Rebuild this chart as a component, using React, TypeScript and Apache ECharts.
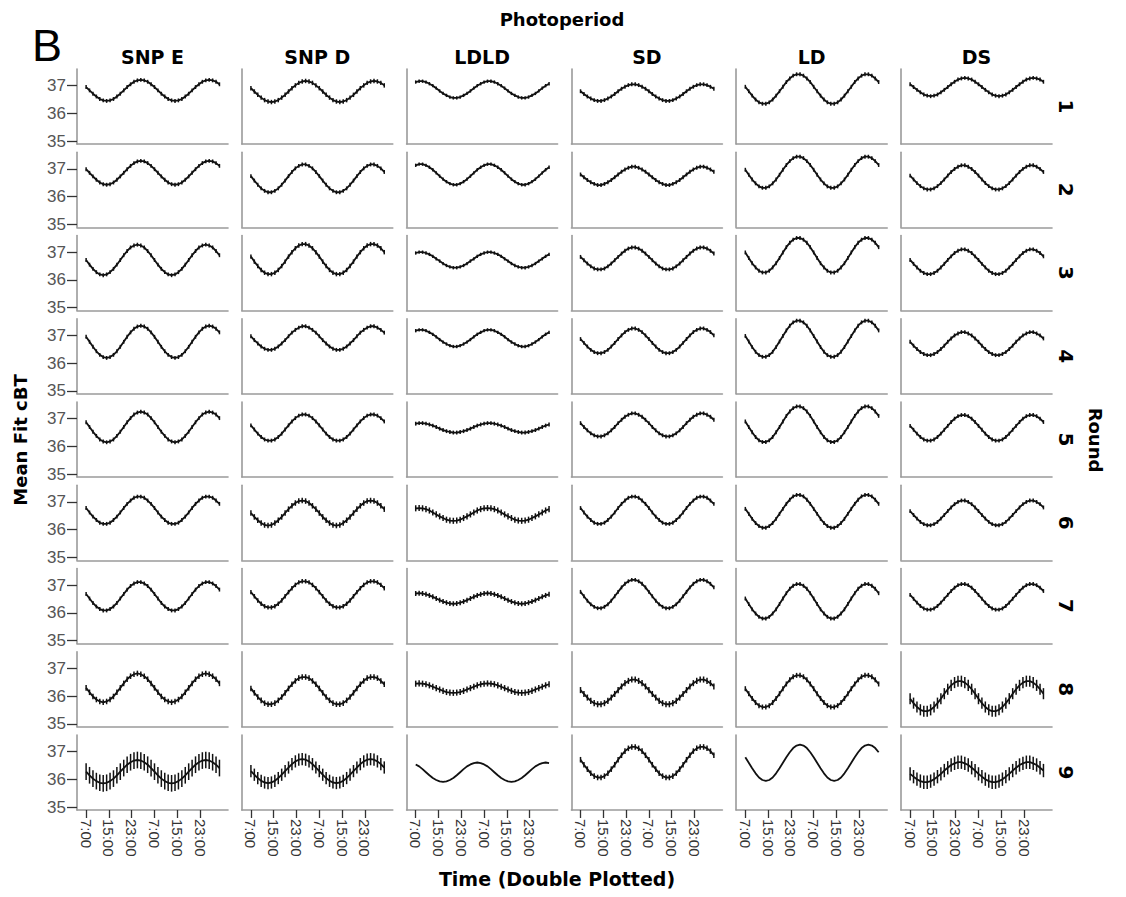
import React, { useEffect, useRef } from "react";
import * as echarts from "echarts";

// ---- labels ----
const PHOTOPERIODS = ["SNP E", "SNP D", "LDLD", "SD", "LD", "DS"];
const ROUNDS = ["1", "2", "3", "4", "5", "6", "7", "8", "9"];
const TICK_HOURS = [0, 8, 16, 24, 32, 40];
const TICK_LABELS = ["7:00", "15:00", "23:00", "7:00", "15:00", "23:00"];
const Y_TICKS = [35, 36, 37];
const SAMPLE_STEP_H = 1.2; // hours between fitted points (20 per day)

// ---- one day of fitted cBT per round (double plotted in the chart) ----
const SNP_E = [
  [36.95, 36.83, 36.71, 36.61, 36.52, 36.47, 36.45, 36.47, 36.52, 36.61, 36.71, 36.83, 36.95, 37.05, 37.14, 37.19, 37.21, 37.19, 37.14, 37.05],
  [36.99, 36.86, 36.73, 36.61, 36.51, 36.45, 36.43, 36.45, 36.51, 36.61, 36.73, 36.86, 36.99, 37.11, 37.21, 37.27, 37.29, 37.27, 37.21, 37.11],
  [36.72, 36.55, 36.40, 36.28, 36.20, 36.17, 36.20, 36.28, 36.40, 36.55, 36.72, 36.89, 37.04, 37.17, 37.24, 37.27, 37.24, 37.17, 37.04, 36.89],
  [36.95, 36.77, 36.59, 36.43, 36.30, 36.22, 36.19, 36.22, 36.30, 36.43, 36.59, 36.77, 36.95, 37.11, 37.24, 37.32, 37.35, 37.32, 37.24, 37.11],
  [36.87, 36.70, 36.53, 36.38, 36.25, 36.18, 36.15, 36.18, 36.25, 36.38, 36.53, 36.70, 36.87, 37.02, 37.15, 37.22, 37.25, 37.22, 37.15, 37.02],
  [36.78, 36.62, 36.47, 36.35, 36.25, 36.21, 36.21, 36.25, 36.35, 36.47, 36.62, 36.78, 36.93, 37.05, 37.15, 37.19, 37.19, 37.15, 37.05, 36.93],
  [36.68, 36.52, 36.36, 36.23, 36.14, 36.09, 36.09, 36.14, 36.23, 36.36, 36.52, 36.68, 36.84, 36.97, 37.06, 37.11, 37.11, 37.06, 36.97, 36.84],
  [36.30, 36.14, 35.99, 35.88, 35.81, 35.78, 35.81, 35.88, 35.99, 36.14, 36.30, 36.46, 36.61, 36.72, 36.79, 36.82, 36.79, 36.72, 36.61, 36.46],
  [36.28, 36.15, 36.03, 35.94, 35.88, 35.86, 35.88, 35.94, 36.03, 36.15, 36.28, 36.41, 36.53, 36.62, 36.68, 36.70, 36.68, 36.62, 36.53, 36.41],
];
const SNP_D = [
  [36.91, 36.79, 36.67, 36.57, 36.48, 36.43, 36.41, 36.43, 36.48, 36.57, 36.67, 36.79, 36.91, 37.01, 37.10, 37.15, 37.17, 37.15, 37.10, 37.01],
  [36.74, 36.58, 36.43, 36.30, 36.21, 36.16, 36.16, 36.21, 36.30, 36.43, 36.58, 36.74, 36.89, 37.02, 37.11, 37.16, 37.16, 37.11, 37.02, 36.89],
  [36.84, 36.66, 36.50, 36.36, 36.26, 36.21, 36.21, 36.26, 36.36, 36.50, 36.66, 36.84, 37.00, 37.14, 37.24, 37.29, 37.29, 37.24, 37.14, 37.00],
  [36.97, 36.83, 36.71, 36.60, 36.52, 36.48, 36.48, 36.52, 36.60, 36.71, 36.83, 36.97, 37.10, 37.20, 37.28, 37.33, 37.33, 37.28, 37.20, 37.10],
  [36.76, 36.61, 36.46, 36.34, 36.25, 36.21, 36.21, 36.25, 36.34, 36.46, 36.61, 36.76, 36.90, 37.02, 37.11, 37.15, 37.15, 37.11, 37.02, 36.90],
  [36.60, 36.46, 36.34, 36.24, 36.17, 36.15, 36.17, 36.24, 36.34, 36.46, 36.60, 36.74, 36.86, 36.96, 37.03, 37.05, 37.03, 36.96, 36.86, 36.74],
  [36.75, 36.60, 36.45, 36.33, 36.24, 36.20, 36.20, 36.24, 36.33, 36.45, 36.60, 36.75, 36.89, 37.01, 37.10, 37.14, 37.14, 37.10, 37.01, 36.89],
  [36.28, 36.12, 35.97, 35.85, 35.75, 35.71, 35.71, 35.75, 35.85, 35.97, 36.12, 36.28, 36.43, 36.55, 36.65, 36.69, 36.69, 36.65, 36.55, 36.43],
  [36.30, 36.17, 36.05, 35.95, 35.89, 35.87, 35.89, 35.95, 36.05, 36.17, 36.30, 36.43, 36.55, 36.65, 36.71, 36.73, 36.71, 36.65, 36.55, 36.43],
];
const LDLD = [
  [37.13, 37.16, 37.16, 37.13, 37.07, 37.00, 36.91, 36.81, 36.72, 36.65, 36.59, 36.56, 36.56, 36.59, 36.65, 36.72, 36.81, 36.91, 37.00, 37.07],
  [37.13, 37.17, 37.17, 37.13, 37.06, 36.97, 36.86, 36.74, 36.63, 36.54, 36.47, 36.43, 36.43, 36.47, 36.54, 36.63, 36.74, 36.86, 36.97, 37.06],
  [36.97, 37.00, 37.00, 36.97, 36.92, 36.85, 36.76, 36.68, 36.59, 36.52, 36.47, 36.44, 36.44, 36.47, 36.52, 36.59, 36.68, 36.76, 36.85, 36.92],
  [37.17, 37.20, 37.20, 37.17, 37.11, 37.04, 36.95, 36.85, 36.76, 36.69, 36.63, 36.60, 36.60, 36.63, 36.69, 36.76, 36.85, 36.95, 37.04, 37.11],
  [36.82, 36.84, 36.84, 36.82, 36.79, 36.75, 36.70, 36.64, 36.59, 36.55, 36.52, 36.50, 36.50, 36.52, 36.55, 36.59, 36.64, 36.70, 36.75, 36.79],
  [36.77, 36.78, 36.77, 36.74, 36.69, 36.62, 36.55, 36.48, 36.42, 36.36, 36.33, 36.32, 36.33, 36.36, 36.42, 36.48, 36.55, 36.62, 36.69, 36.74],
  [36.70, 36.71, 36.70, 36.67, 36.63, 36.58, 36.52, 36.46, 36.41, 36.37, 36.34, 36.33, 36.34, 36.37, 36.41, 36.46, 36.52, 36.58, 36.63, 36.67],
  [36.45, 36.46, 36.45, 36.43, 36.39, 36.34, 36.29, 36.24, 36.19, 36.15, 36.13, 36.12, 36.13, 36.15, 36.19, 36.24, 36.29, 36.34, 36.39, 36.43],
  [36.54, 36.47, 36.37, 36.26, 36.15, 36.05, 35.98, 35.93, 35.91, 35.93, 35.98, 36.05, 36.15, 36.26, 36.37, 36.47, 36.54, 36.59, 36.61, 36.59],
];
const SD = [
  [36.80, 36.70, 36.61, 36.54, 36.48, 36.45, 36.45, 36.48, 36.54, 36.61, 36.70, 36.80, 36.89, 36.96, 37.02, 37.05, 37.05, 37.02, 36.96, 36.89],
  [36.80, 36.70, 36.60, 36.52, 36.46, 36.42, 36.42, 36.46, 36.52, 36.60, 36.70, 36.80, 36.90, 36.98, 37.04, 37.08, 37.08, 37.04, 36.98, 36.90],
  [36.83, 36.71, 36.59, 36.49, 36.41, 36.38, 36.38, 36.41, 36.49, 36.59, 36.71, 36.83, 36.95, 37.05, 37.13, 37.17, 37.17, 37.13, 37.05, 36.95],
  [36.87, 36.73, 36.60, 36.48, 36.40, 36.36, 36.36, 36.40, 36.48, 36.60, 36.73, 36.87, 37.00, 37.12, 37.20, 37.25, 37.25, 37.20, 37.12, 37.00],
  [36.84, 36.70, 36.58, 36.47, 36.40, 36.36, 36.36, 36.40, 36.47, 36.58, 36.70, 36.84, 36.96, 37.07, 37.14, 37.19, 37.19, 37.14, 37.07, 36.96],
  [36.78, 36.62, 36.47, 36.35, 36.25, 36.21, 36.21, 36.25, 36.35, 36.47, 36.62, 36.78, 36.93, 37.05, 37.15, 37.19, 37.19, 37.15, 37.05, 36.93],
  [36.76, 36.60, 36.44, 36.31, 36.22, 36.17, 36.17, 36.22, 36.31, 36.44, 36.60, 36.76, 36.92, 37.05, 37.14, 37.19, 37.19, 37.14, 37.05, 36.92],
  [36.22, 36.08, 35.95, 35.83, 35.75, 35.71, 35.71, 35.75, 35.83, 35.95, 36.08, 36.22, 36.35, 36.47, 36.55, 36.60, 36.60, 36.55, 36.47, 36.35],
  [36.71, 36.53, 36.37, 36.22, 36.12, 36.07, 36.07, 36.12, 36.22, 36.37, 36.53, 36.71, 36.87, 37.02, 37.12, 37.17, 37.17, 37.12, 37.02, 36.87],
];
const LD = [
  [36.96, 36.80, 36.64, 36.50, 36.40, 36.35, 36.35, 36.40, 36.50, 36.64, 36.80, 36.96, 37.13, 37.26, 37.36, 37.41, 37.41, 37.36, 37.26, 37.13],
  [36.97, 36.79, 36.62, 36.48, 36.37, 36.32, 36.32, 36.37, 36.48, 36.62, 36.79, 36.97, 37.14, 37.28, 37.39, 37.44, 37.44, 37.39, 37.28, 37.14],
  [36.99, 36.79, 36.60, 36.45, 36.33, 36.27, 36.27, 36.33, 36.45, 36.60, 36.79, 36.99, 37.18, 37.34, 37.45, 37.51, 37.51, 37.45, 37.34, 37.18],
  [36.98, 36.78, 36.58, 36.41, 36.29, 36.23, 36.23, 36.29, 36.41, 36.58, 36.78, 36.98, 37.18, 37.35, 37.47, 37.53, 37.53, 37.47, 37.35, 37.18],
  [36.90, 36.70, 36.51, 36.34, 36.22, 36.16, 36.16, 36.22, 36.34, 36.51, 36.70, 36.90, 37.10, 37.26, 37.38, 37.44, 37.44, 37.38, 37.26, 37.10],
  [36.75, 36.57, 36.39, 36.24, 36.13, 36.07, 36.07, 36.13, 36.24, 36.39, 36.57, 36.75, 36.93, 37.08, 37.20, 37.25, 37.25, 37.20, 37.08, 36.93],
  [36.52, 36.32, 36.13, 35.98, 35.86, 35.80, 35.80, 35.86, 35.98, 36.13, 36.32, 36.52, 36.71, 36.87, 36.98, 37.04, 37.04, 36.98, 36.87, 36.71],
  [36.27, 36.09, 35.92, 35.77, 35.66, 35.61, 35.61, 35.66, 35.77, 35.92, 36.09, 36.27, 36.44, 36.59, 36.70, 36.75, 36.75, 36.70, 36.59, 36.44],
  [36.80, 36.60, 36.40, 36.22, 36.07, 35.98, 35.95, 35.98, 36.07, 36.22, 36.40, 36.60, 36.80, 36.98, 37.13, 37.22, 37.25, 37.22, 37.13, 36.98],
];
const DS = [
  [37.05, 36.95, 36.85, 36.76, 36.68, 36.64, 36.62, 36.64, 36.68, 36.76, 36.85, 36.95, 37.05, 37.14, 37.22, 37.26, 37.28, 37.26, 37.22, 37.14],
  [36.76, 36.62, 36.49, 36.38, 36.30, 36.26, 36.26, 36.30, 36.38, 36.49, 36.62, 36.76, 36.89, 37.00, 37.08, 37.13, 37.13, 37.08, 37.00, 36.89],
  [36.72, 36.58, 36.45, 36.33, 36.25, 36.21, 36.21, 36.25, 36.33, 36.45, 36.58, 36.72, 36.85, 36.97, 37.05, 37.10, 37.10, 37.05, 36.97, 36.85],
  [36.77, 36.63, 36.51, 36.40, 36.33, 36.29, 36.29, 36.33, 36.40, 36.51, 36.63, 36.77, 36.89, 37.00, 37.07, 37.12, 37.12, 37.07, 37.00, 36.89],
  [36.74, 36.60, 36.46, 36.34, 36.25, 36.21, 36.21, 36.25, 36.34, 36.46, 36.60, 36.74, 36.88, 37.00, 37.09, 37.13, 37.13, 37.09, 37.00, 36.88],
  [36.67, 36.53, 36.40, 36.28, 36.20, 36.16, 36.16, 36.20, 36.28, 36.40, 36.53, 36.67, 36.80, 36.92, 37.00, 37.05, 37.05, 37.00, 36.92, 36.80],
  [36.65, 36.51, 36.37, 36.25, 36.16, 36.12, 36.12, 36.16, 36.25, 36.37, 36.51, 36.65, 36.79, 36.91, 37.00, 37.04, 37.04, 37.00, 36.91, 36.79],
  [35.91, 35.75, 35.61, 35.51, 35.46, 35.46, 35.51, 35.61, 35.75, 35.91, 36.09, 36.25, 36.39, 36.49, 36.54, 36.54, 36.49, 36.39, 36.25, 36.09],
  [36.20, 36.10, 36.01, 35.94, 35.90, 35.90, 35.94, 36.01, 36.10, 36.20, 36.32, 36.42, 36.52, 36.58, 36.62, 36.62, 36.58, 36.52, 36.42, 36.32],
];

// ---- error-bar half widths per round ----
const SNP_E_ERR = [0.07, 0.07, 0.07, 0.07, 0.07, 0.07, 0.07, 0.1, 0.3];
const SNP_D_ERR = [0.08, 0.07, 0.08, 0.07, 0.07, 0.1, 0.08, 0.1, 0.22];
const LDLD_ERR = [0.06, 0.06, 0.06, 0.06, 0.07, 0.11, 0.09, 0.11, 0];
const SD_ERR = [0.07, 0.07, 0.07, 0.07, 0.07, 0.07, 0.07, 0.11, 0.1];
const LD_ERR = [0.07, 0.07, 0.07, 0.07, 0.07, 0.07, 0.07, 0.09, 0];
const DS_ERR = [0.07, 0.07, 0.07, 0.07, 0.07, 0.07, 0.07, 0.2, 0.24];

const COLUMNS = [SNP_E, SNP_D, LDLD, SD, LD, DS];
const ERRORS = [SNP_E_ERR, SNP_D_ERR, LDLD_ERR, SD_ERR, LD_ERR, DS_ERR];

// ---- layout ----
const LEFT0 = 77;
const COL_PITCH = 164.8;
const TOP0 = 69;
const ROW_PITCH = 83.25;
const GW = 151;
const GH = 75;

const AXIS_GRAY = "#9a9a9a";
const INK = "#111";
const BOLD_FONT = "DejaVu Sans";

function buildOption() {
  const grid: any[] = [];
  const xAxis: any[] = [];
  const yAxis: any[] = [];
  const series: any[] = [];

  for (let r = 0; r < ROUNDS.length; r++) {
    for (let c = 0; c < PHOTOPERIODS.length; c++) {
      const i = grid.length;
      const isBottom = r === ROUNDS.length - 1;
      const isFirst = c === 0;
      grid.push({
        left: LEFT0 + c * COL_PITCH,
        top: TOP0 + r * ROW_PITCH,
        width: GW,
        height: GH,
        containLabel: false,
      });
      xAxis.push({
        type: "value",
        gridIndex: i,
        min: -3.2,
        max: 49.8,
        splitLine: { show: false },
        axisLine: { show: true, onZero: false, lineStyle: { color: AXIS_GRAY, width: 1.6 } },
        axisTick: {
          show: isBottom,
          customValues: TICK_HOURS,
          length: 8,
          lineStyle: { color: "#333", width: 1.3 },
        },
        axisLabel: {
          show: isBottom,
          customValues: TICK_HOURS,
          rotate: -90,
          margin: 9,
          fontSize: 15,
          fontFamily: "Liberation Sans",
          color: "#333",
          formatter: (v: number) => {
            const k = TICK_HOURS.indexOf(v);
            return k >= 0 ? TICK_LABELS[k] : "";
          },
        },
      });
      yAxis.push({
        type: "value",
        gridIndex: i,
        min: 34.9,
        max: 37.6,
        splitLine: { show: false },
        axisLine: { show: true, onZero: false, lineStyle: { color: AXIS_GRAY, width: 1.6 } },
        axisTick: {
          show: isFirst,
          customValues: Y_TICKS,
          length: 10,
          lineStyle: { color: "#333", width: 1.3 },
        },
        axisLabel: {
          show: isFirst,
          customValues: Y_TICKS,
          margin: 11,
          fontSize: 17,
          fontFamily: "Liberation Sans",
          color: "#555",
        },
      });

      const day = COLUMNS[c][r];
      const vals = day.concat(day); // double plotted
      series.push({
        type: "line",
        xAxisIndex: i,
        yAxisIndex: i,
        data: vals.map((v, k) => [k * SAMPLE_STEP_H, v]),
        symbol: "none",
        silent: true,
        lineStyle: { color: INK, width: 1.8 },
      });
      const e = ERRORS[c][r];
      if (e > 0) {
        series.push({
          type: "custom",
          xAxisIndex: i,
          yAxisIndex: i,
          silent: true,
          data: vals.map((v, k) => [k * SAMPLE_STEP_H, v - e, v + e]),
          encode: { x: 0, y: [1, 2] },
          renderItem: (params: any, api: any) => {
            const x = api.value(0);
            const p1 = api.coord([x, api.value(1)]);
            const p2 = api.coord([x, api.value(2)]);
            return {
              type: "line",
              shape: { x1: p1[0], y1: p1[1], x2: p2[0], y2: p2[1] },
              style: { stroke: INK, lineWidth: 1.5 },
            };
          },
        });
      }
    }
  }

  const graphic: any[] = [];
  const boldText = (text: string, x: number, y: number, size: number, rotation = 0) => ({
    type: "text",
    x,
    y,
    rotation,
    silent: true,
    style: {
      text,
      fill: "#000",
      fontSize: size,
      fontWeight: "bold",
      fontFamily: BOLD_FONT,
      align: "center",
      verticalAlign: "middle",
    },
  });

  graphic.push({
    type: "text",
    x: 47,
    y: 45,
    silent: true,
    style: {
      text: "B",
      fill: "#000",
      fontSize: 45,
      fontFamily: "Liberation Sans",
      align: "center",
      verticalAlign: "middle",
    },
  });
  graphic.push(boldText("Photoperiod", 562, 19, 18));
  PHOTOPERIODS.forEach((p, c) => {
    graphic.push(boldText(p, LEFT0 + c * COL_PITCH + GW / 2, 57, 19));
  });
  ROUNDS.forEach((rd, r) => {
    graphic.push(boldText(rd, 1066, TOP0 + r * ROW_PITCH + GH / 2, 20, -Math.PI / 2));
  });
  graphic.push(boldText("Round", 1095, 440, 18, -Math.PI / 2));
  graphic.push(boldText("Mean Fit cBT", 20, 440, 18, Math.PI / 2));
  graphic.push(boldText("Time (Double Plotted)", 557, 879, 19));

  return {
    animation: false,
    backgroundColor: "#ffffff",
    grid,
    xAxis,
    yAxis,
    series,
    graphic,
  };
}

export default function App() {
  const ref = useRef<HTMLDivElement>(null);
  useEffect(() => {
    if (!ref.current) return;
    const chart = echarts.init(ref.current, undefined, { renderer: "svg" });
    chart.setOption(buildOption());
    return () => chart.dispose();
  }, []);
  return (
    <div
      ref={ref}
      style={{ position: "fixed", left: 0, top: 0, width: 1126, height: 897, background: "#fff" }}
    />
  );
}
